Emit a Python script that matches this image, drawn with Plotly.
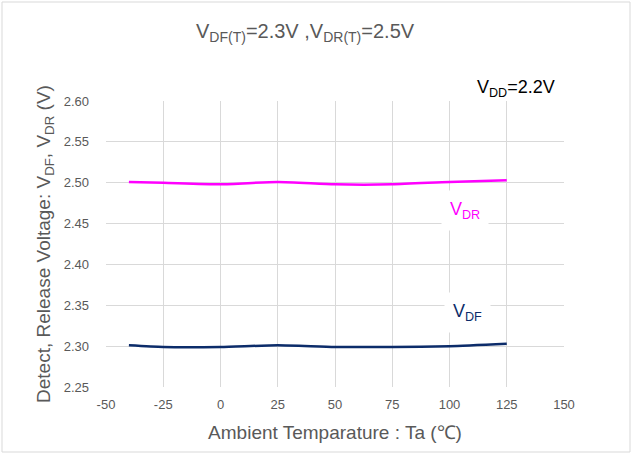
import plotly.graph_objects as go

temps = [-40, -25, 0, 25, 50, 75, 100, 125]
vdr = [2.501, 2.500, 2.498, 2.501, 2.498, 2.498, 2.501, 2.503]
vdf = [2.301, 2.299, 2.299, 2.301, 2.299, 2.299, 2.300, 2.303]
x_ticks = [-50, -25, 0, 25, 50, 75, 100, 125, 150]
y_ticks = [2.25, 2.30, 2.35, 2.40, 2.45, 2.50, 2.55, 2.60]

W, H = 633, 456
L, R, T, B = 106, 69, 101, 69
pw, ph = W - L - R, H - T - B

def px(x):
    return (x - L) / pw

def py(y):
    return (H - B - y) / ph

fig = go.Figure()
fig.add_trace(go.Scatter(x=temps, y=vdr, mode="lines", line=dict(color="#FF00FF", width=2.5),
                         line_shape="spline", line_smoothing=0.6, showlegend=False))
fig.add_trace(go.Scatter(x=temps, y=vdf, mode="lines", line=dict(color="#0C2C6A", width=2.5),
                         line_shape="spline", line_smoothing=0.6, showlegend=False))

gray = "#595959"
fig.update_layout(
    width=W, height=H,
    margin=dict(l=L, r=R, t=T, b=B),
    paper_bgcolor="white", plot_bgcolor="white",
    font=dict(family="Liberation Sans, Arial, sans-serif", color=gray),
    xaxis=dict(range=[-50, 150], tickvals=x_ticks, ticktext=[str(v) for v in x_ticks],
               showgrid=True, gridcolor="#D9D9D9", gridwidth=1, zeroline=False,
               showline=False, tickfont=dict(size=13, color=gray), ticklabelstandoff=8,
               title=dict(text="Ambient Temparature : Ta (\u2103)", font=dict(size=19, color=gray), standoff=14)),
    yaxis=dict(range=[2.25, 2.60], tickvals=y_ticks, ticktext=["%.2f" % v for v in y_ticks],
               showgrid=True, gridcolor="#D9D9D9", gridwidth=1, zeroline=False,
               showline=False, tickfont=dict(size=13, color=gray), ticklabelstandoff=16,
               title=dict(text="Detect, Release Voltage: V<sub>DF</sub>, V<sub>DR</sub> (V)",
                          font=dict(size=19, color=gray), standoff=8)),
)

fig.add_annotation(xref="paper", yref="paper", x=px(305), y=py(32), showarrow=False,
                   text="V<sub>DF(T)</sub>=2.3V ,V<sub>DR(T)</sub>=2.5V",
                   font=dict(size=20, color=gray), xanchor="center", yanchor="middle")
fig.add_annotation(xref="paper", yref="paper", x=px(516), y=py(88), showarrow=False,
                   text="V<sub>DD</sub>=2.2V", font=dict(size=18, color="black"),
                   xanchor="center", yanchor="middle")
fig.add_annotation(xref="paper", yref="paper", x=px(465), y=py(210), showarrow=False,
                   text="V<sub>DR</sub>", font=dict(size=18, color="#FF00FF"),
                   bgcolor="white", borderpad=8, xanchor="center", yanchor="middle")
fig.add_annotation(xref="paper", yref="paper", x=px(467), y=py(312), showarrow=False,
                   text="V<sub>DF</sub>", font=dict(size=18, color="#0C2C6A"),
                   bgcolor="white", borderpad=8, xanchor="center", yanchor="middle")

fig.add_shape(type="rect", xref="paper", yref="paper",
              x0=px(2), x1=px(630), y0=py(452), y1=py(2),
              line=dict(color="#D9D9D9", width=1), fillcolor="rgba(0,0,0,0)", layer="below")

fig.write_html("out.html")
